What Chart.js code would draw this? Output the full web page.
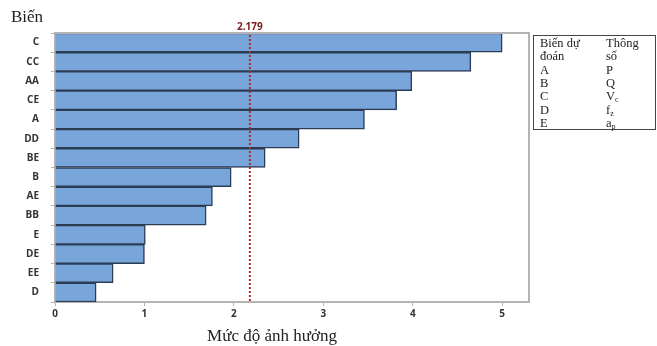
<!DOCTYPE html>
<html>
<head>
<meta charset="utf-8">
<script src="https://cdn.jsdelivr.net/npm/chart.js@4/dist/chart.umd.min.js"></script>
<style>
  html, body { margin: 0; padding: 0; background: #fff; }
  #wrap { width: 657px; height: 346px; position: relative; }
</style>
</head>
<body>
<div id="wrap"><canvas id="Chart"></canvas></div>
<script>
// dữ liệu Pareto
const bien = ['C', 'CC', 'AA', 'CE', 'A', 'DD', 'BE', 'B', 'AE', 'BB', 'E', 'DE', 'EE', 'D'];
const mucDo = [5.0, 4.65, 3.99, 3.82, 3.46, 2.73, 2.35, 1.97, 1.76, 1.69, 1.01, 1.0, 0.65, 0.46];
const nguong = 2.179;
const xTicks = [0, 1, 2, 3, 4, 5];

// bảng chú thích
const bangTieuDe = [['Biến dự', 'Thông'], ['đoán', 'số']];
const bienDuDoan = ['A', 'B', 'C', 'D', 'E'];
const thongSo = [['P', ''], ['Q', ''], ['V', 'c'], ['f', 'z'], ['a', 'p']];

const serif = '"Liberation Serif", "DejaVu Serif", serif';

// khung, đường ngưỡng, chữ
const extras = {
  id: 'extras',
  afterDatasetsDraw(chart) {
    const ctx = chart.ctx;
    const a = chart.chartArea;
    const x = chart.scales.x;
    ctx.save();
    // khung trên + phải
    ctx.strokeStyle = '#b4b4b4';
    ctx.lineWidth = 2;
    ctx.beginPath();
    ctx.moveTo(a.left, a.top);
    ctx.lineTo(a.right, a.top);
    ctx.lineTo(a.right, a.bottom);
    ctx.stroke();

    // đường ngưỡng
    const px = x.getPixelForValue(nguong);
    ctx.strokeStyle = '#b02828';
    ctx.lineWidth = 2;
    ctx.setLineDash([2, 2]);
    ctx.beginPath();
    ctx.moveTo(px, a.top + 2);
    ctx.lineTo(px, a.bottom);
    ctx.stroke();
    ctx.setLineDash([]);
    ctx.fillStyle = '#7a2020';
    ctx.font = 'bold 10px "Open Sans", sans-serif';
    ctx.textAlign = 'center';
    ctx.textBaseline = 'alphabetic';
    ctx.fillText(nguong.toFixed(3), px, a.top - 3);

    // tiêu đề
    ctx.fillStyle = '#222';
    ctx.textAlign = 'left';
    ctx.font = '17px ' + serif;
    ctx.fillText('Biến', 11, 22);
    ctx.textAlign = 'center';
    ctx.font = '17px ' + serif;
    ctx.fillText('Mức độ ảnh hưởng', 272, 341);

    // bảng
    ctx.strokeStyle = '#444';
    ctx.lineWidth = 1;
    ctx.strokeRect(533.5, 35.5, 122, 94);
    ctx.fillStyle = '#222';
    ctx.textAlign = 'left';
    ctx.font = '12.5px ' + serif;
    let y = 47;
    const step = 13.3;
    bangTieuDe.forEach(r => {
      ctx.fillText(r[0], 540, y);
      ctx.fillText(r[1], 606, y);
      y += step;
    });
    bienDuDoan.forEach((b, i) => {
      ctx.font = '12.5px ' + serif;
      ctx.fillText(b, 540, y);
      ctx.fillText(thongSo[i][0], 606, y);
      if (thongSo[i][1]) {
        const w = ctx.measureText(thongSo[i][0]).width;
        ctx.font = '8px ' + serif;
        ctx.fillText(thongSo[i][1], 606 + w, y + 2);
      }
      y += step;
    });
    ctx.restore();
  }
};

let lineCtx = document.getElementById('Chart');
let lineConfig = {
  type: 'bar',
  data: {
    labels: bien,
    datasets: [{
      data: mucDo,
      backgroundColor: 'rgb(120, 165, 218)',
      borderColor: 'rgb(45, 60, 85)',
      borderWidth: 1.5,
      borderSkipped: 'left',
      barPercentage: 1,
      categoryPercentage: 1
    }]
  },
  options: {
    indexAxis: 'y',
    responsive: false,
    animation: false,
    layout: { padding: { left: 0, right: 128, top: 33, bottom: 0 } },
    plugins: { legend: { display: false }, tooltip: { enabled: false } },
    scales: {
      x: {
        min: 0,
        max: 5.3,
        afterBuildTicks: s => { s.ticks = xTicks.map(v => ({ value: v })); },
        afterFit: s => { s.height = 44; },
        ticks: { color: '#333', font: { family: '"Open Sans", sans-serif', size: 10, weight: 'bold' }, padding: 2 },
        grid: { drawOnChartArea: false, drawTicks: true, tickLength: 4, color: '#b4b4b4' },
        border: { color: '#b4b4b4', width: 2 }
      },
      y: {
        afterFit: s => { s.width = 55; },
        ticks: { color: '#333', font: { family: '"Open Sans", sans-serif', size: 10, weight: 'bold' }, padding: 12 },
        grid: { drawOnChartArea: false, drawTicks: true, tickLength: 4, color: '#b4b4b4' },
        border: { color: '#b4b4b4', width: 2 }
      }
    }
  },
  plugins: [extras]
};
lineCtx.width = 657;
lineCtx.height = 346;
let lineChart = new Chart(lineCtx, lineConfig);
</script>
</body>
</html>
